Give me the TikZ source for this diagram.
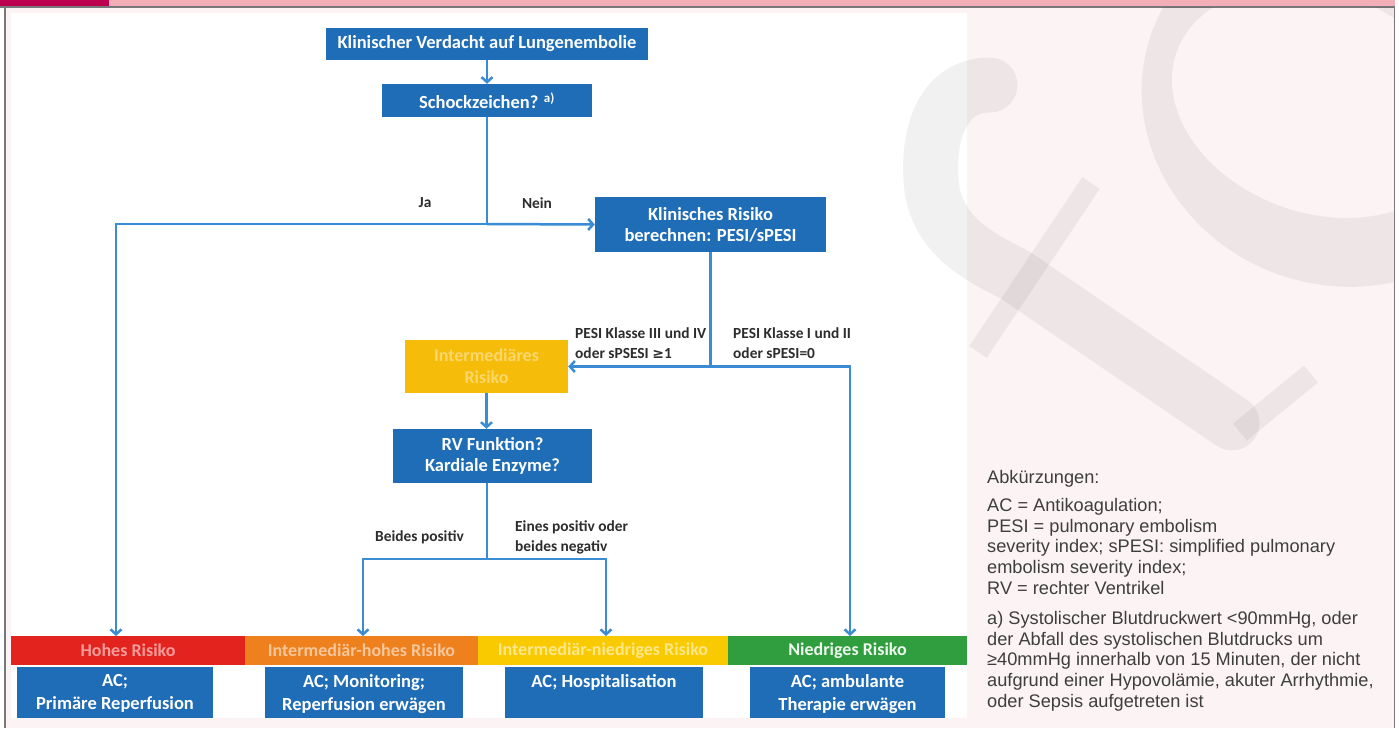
\documentclass[tikz,border=0pt]{standalone}
\usepackage{fontspec}
\setmainfont{Carlito}
\newfontfamily\legendfont{Liberation Sans}
\newfontfamily\symfont{DejaVu Sans}
\usetikzlibrary{arrows.meta}
\definecolor{boxblue}{RGB}{31,108,183}
\definecolor{lineblue}{RGB}{58,140,212}
\definecolor{ybox}{RGB}{246,188,10}
\definecolor{redbar}{RGB}{227,35,30}
\definecolor{orangebar}{RGB}{238,128,30}
\definecolor{yellowbar}{RGB}{250,202,0}
\definecolor{greenbar}{RGB}{48,158,62}
\definecolor{pinkbg}{RGB}{252,243,244}
\definecolor{toppink}{RGB}{244,174,184}
\definecolor{topmagenta}{RGB}{190,0,80}
\definecolor{framegray}{RGB}{120,120,120}
\definecolor{labelgray}{RGB}{45,45,45}
\definecolor{legendgray}{RGB}{62,62,62}
\begin{document}
\begin{tikzpicture}[x=1pt,y=-1pt,
  bluebox/.style={fill=boxblue, text=white, inner sep=0pt, align=center, font=\bfseries\fontsize{18.5}{21}\selectfont},
  boxtext/.style={text=white, inner sep=0pt, align=center, font=\bfseries\fontsize{18.5}{23}\selectfont},
  barbox/.style={inner sep=0pt, minimum height=29pt, font=\bfseries\fontsize{18}{20}\selectfont},
  lbl/.style={inner sep=0pt, align=left, text=labelgray, font=\bfseries\fontsize{15.4}{20}\selectfont},
  ln/.style={draw=lineblue, line width=2.5pt},
  arr/.style={ln, -{Straight Barb[length=5pt,width=11pt]}},
  legend/.style={inner sep=0pt, align=left, text=legendgray, font=\legendfont\fontsize{18.2}{20.7}\selectfont},
  wmark/.style={fill=black, fill opacity=0.055},
  wline/.style={draw=black, draw opacity=0.055}
]
\useasboundingbox (0,0) rectangle (1399,728);
% background and frame
\fill[white] (0,0) rectangle (1399,728);
\fill[pinkbg] (5.5,7.5) rectangle (1393.5,728);
\fill[toppink] (0,0) rectangle (1395,6);
\fill[topmagenta] (0,0) rectangle (109,6);
\fill[framegray] (0,6) rectangle (1395,7.5);
\fill[framegray] (4,6) rectangle (5.5,728);
\fill[framegray] (1393.5,6) rectangle (1395,728);
% diagram image area
\fill[white] (11,13) rectangle (967,718);

% top boxes
\node[bluebox, minimum width=322pt, minimum height=32pt] (b1) at (487,44) {Klinischer Verdacht auf Lungenembolie};
\node[bluebox, minimum width=210pt, minimum height=33pt] (b2) at (487,100.5) {Schockzeichen? \textsuperscript{a)}};
\node[bluebox, minimum width=231pt, minimum height=55pt] (b3) at (710.5,224.5) {Klinisches Risiko\\berechnen: PESI/sPESI};
\node[fill=ybox, inner sep=0pt, minimum width=163pt, minimum height=53pt, align=center,
      text=white!40!ybox, font=\bfseries\fontsize{18}{22}\selectfont] (yel) at (486.5,366.5) {Intermediäres\\Risiko};
\node[bluebox, minimum width=199pt, minimum height=54pt] (rv) at (492.5,456) {RV Funktion?\\Kardiale Enzyme?};

% risk bars
\node[barbox, fill=redbar, minimum width=234pt, text=white!55!redbar] (hbar) at (128,650.5) {Hohes Risiko};
\node[barbox, fill=orangebar, minimum width=233pt, text=white!55!orangebar] (obar) at (361.5,650.5) {Intermediär-hohes Risiko};
\node[barbox, fill=yellowbar, minimum width=250pt, text=white!55!yellowbar] (ybar) at (603,650.5) {Intermediär-niedriges Risiko};
\node[barbox, fill=greenbar, minimum width=239pt, text=white!92!greenbar] (gbar) at (847.5,650.5) {Niedriges Risiko};

% result boxes
\node[fill=boxblue, inner sep=0pt, minimum width=196pt, minimum height=51pt] (r1) at (115,692.5) {};
\node[fill=boxblue, inner sep=0pt, minimum width=198pt, minimum height=51pt] (r2) at (364,692.5) {};
\node[fill=boxblue, inner sep=0pt, minimum width=198pt, minimum height=51pt] (r3) at (604,692.5) {};
\node[fill=boxblue, inner sep=0pt, minimum width=195pt, minimum height=51pt] (r4) at (847.5,692.5) {};
\node[boxtext, anchor=north] (r1t) at (115,674) {AC;\\Primäre Reperfusion};
\node[boxtext, anchor=north] (r2t) at (364,674) {AC; Monitoring;\\Reperfusion erwägen};
\node[boxtext, anchor=north] (r3t) at (604,674) {AC; Hospitalisation};
\node[boxtext, anchor=north] (r4t) at (847.5,674) {AC; ambulante\\Therapie erwägen};

% junctions and targets
\coordinate (j1) at (487,224);
\coordinate (j2) at (710.5,366.5);
\coordinate (j3) at (487,559);
\coordinate (t1) at (116,636);
\coordinate (t2) at (363,636);
\coordinate (t3) at (606,636);
\coordinate (t4) at (850,636);

% connectors
\draw[arr] (b1.south) -- (b2.north);
\draw[ln] (b2.south) -- (j1);
\draw[arr] (j1) -- (b3.west);
\draw[arr] (j1) -| (t1);
\draw[ln] (b3.south) -- (j2);
\draw[arr] (j2) -- (yel.east);
\draw[arr] (j2) -| (t4);
\draw[arr] (yel.south) -- (yel.south |- rv.north);
\draw[ln] (rv.south -| j3) -- (j3);
\draw[arr] (j3) -| (t2);
\draw[arr] (j3) -| (t3);

% connector labels
\node[lbl] (lja) at (425,203) {Ja};
\node[lbl] (lnein) at (537,203) {Nein};
\node[lbl, anchor=north west] (lpesi1) at (575,327) {PESI Klasse III und IV\\oder sPSESI {\symfont\fontsize{14}{20}\selectfont ≥}1};
\node[lbl, anchor=north west] (lpesi2) at (733,327) {PESI Klasse I und II\\oder sPESI=0};
\node[lbl, anchor=west] (lbeides) at (375,537) {Beides positiv};
\node[lbl, anchor=north west] (leines) at (515,520) {Eines positiv oder\\beides negativ};

% legend
\node[legend, anchor=base west] (lgtitle) at (987,483) {Abkürzungen:};
\node[legend, anchor=north west] (lgabbr) at (987,498) {AC = Antikoagulation;\\PESI = pulmonary embolism\\severity index; sPESI: simplified pulmonary\\embolism severity index;\\RV = rechter Ventrikel};
\node[legend, anchor=north west] (lgnote) at (987,611) {a) Systolischer Blutdruckwert <90mmHg, oder\\der Abfall des systolischen Blutdrucks um\\≥40mmHg innerhalb von 15 Minuten, der nicht\\aufgrund einer Hypovolämie, akuter Arrhythmie,\\oder Sepsis aufgetreten ist};

% watermark
\begin{scope}
\clip (900,7.5) rectangle (1393.5,728);
\fill[wmark, even odd rule, rotate around={-20:(1340,100)}]
  (1340,100) ellipse [x radius=200, y radius=185]
  (1320,110) ellipse [x radius=150, y radius=110];
\draw[wline, line width=55pt, line cap=round]
  (990,85) .. controls (945,85) and (925,130) .. (932,190)
  .. controls (940,235) and (975,255) .. (1015,275) -- (1232,423);
\draw[wline, line width=22pt] (1240,432) -- (1311,374);
\draw[wline, line width=21pt] (978,352) -- (1091,183);
\end{scope}
\end{tikzpicture}
\end{document}
